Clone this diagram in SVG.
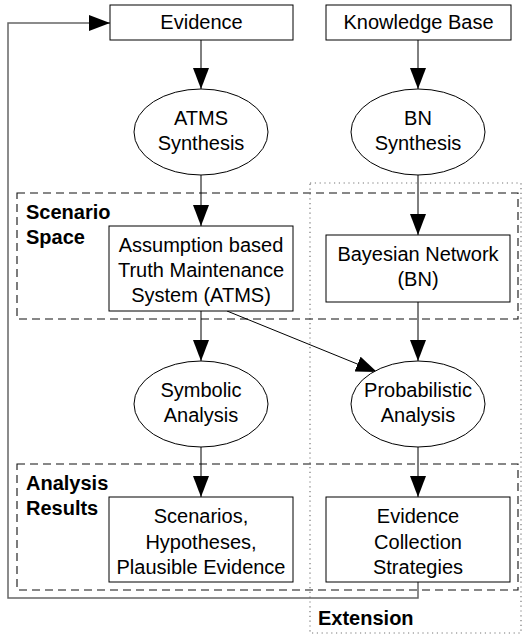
<svg xmlns="http://www.w3.org/2000/svg" width="530" height="637" viewBox="0 0 530 637">
<style>
  .box{fill:#fff;stroke:#000;stroke-width:1}
  .ell{fill:#fff;stroke:#000;stroke-width:1}
  .t{font-family:"Liberation Sans",Arial,sans-serif;font-size:20px;fill:#000;text-anchor:middle}
  .lbl{font-family:"Liberation Sans",Arial,sans-serif;font-size:20px;font-weight:bold;fill:#000}
  .edge{fill:none;stroke:#000;stroke-width:1}
  .dash{fill:none;stroke:#111;stroke-width:1.1;stroke-dasharray:8,5}
  .dot{fill:none;stroke:#777;stroke-width:1.2;stroke-dasharray:1.2,3.6}
</style>
<defs>
  <marker id="ah" viewBox="0 0 21 16" refX="21" refY="8" markerWidth="21" markerHeight="16" markerUnits="userSpaceOnUse" orient="auto">
    <path d="M0,0 L21,8 L0,16 Z" fill="#000"/>
  </marker>
</defs>
<rect fill="#fff" x="0" y="0" width="530" height="637"/>
<g id="regions">
  <rect class="dot" x="310" y="183" width="211" height="450"/>
  <rect class="dash" x="17" y="193" width="501" height="126"/>
  <rect class="dash" x="17" y="464" width="501" height="126"/>
  <text class="lbl" x="26" y="219">Scenario</text>
  <text class="lbl" x="26" y="244">Space</text>
  <text class="lbl" x="26" y="490">Analysis</text>
  <text class="lbl" x="26" y="515">Results</text>
  <text class="lbl" x="318" y="625">Extension</text>
</g>
<g id="connectors">
  <path class="edge" d="M201,40 L201,89" marker-end="url(#ah)"/>
  <path class="edge" d="M418,40 L418,89" marker-end="url(#ah)"/>
  <path class="edge" d="M201,175 L201,226" marker-end="url(#ah)"/>
  <path class="edge" d="M418,175 L418,235" marker-end="url(#ah)"/>
  <path class="edge" d="M201,311 L201,361" marker-end="url(#ah)"/>
  <path class="edge" d="M418,302 L418,361" marker-end="url(#ah)"/>
  <path class="edge" d="M227,311 L377,372" marker-end="url(#ah)"/>
  <path class="edge" d="M201,447 L201,497" marker-end="url(#ah)"/>
  <path class="edge" d="M418,447 L418,497" marker-end="url(#ah)"/>
  <path d="M418,582 L418,598 L8,598 L8,23 L95,23" fill="none" stroke="#666" stroke-width="1.5"/>
  <path class="edge" d="M95,23 L110,23" marker-end="url(#ah)"/>
</g>
<g id="evidence">
  <rect class="box" x="110" y="5" width="183" height="35"/>
  <text class="t" x="201.5" y="29">Evidence</text>
</g>
<g id="knowledge-base">
  <rect class="box" x="326" y="5" width="185" height="35"/>
  <text class="t" x="418.5" y="29">Knowledge Base</text>
</g>
<g id="atms-synthesis">
  <ellipse class="ell" cx="201" cy="132" rx="67" ry="43"/>
  <text class="t" x="201" y="125">ATMS</text>
  <text class="t" x="201" y="150">Synthesis</text>
</g>
<g id="bn-synthesis">
  <ellipse class="ell" cx="418" cy="132" rx="67" ry="43"/>
  <text class="t" x="418" y="125">BN</text>
  <text class="t" x="418" y="150">Synthesis</text>
</g>
<g id="atms">
  <rect class="box" x="109" y="226" width="184" height="85"/>
  <text class="t" x="201" y="252">Assumption based</text>
  <text class="t" x="201" y="277">Truth Maintenance</text>
  <text class="t" x="201" y="302">System (ATMS)</text>
</g>
<g id="bn">
  <rect class="box" x="326" y="235" width="184" height="67"/>
  <text class="t" x="418" y="261">Bayesian Network</text>
  <text class="t" x="418" y="286">(BN)</text>
</g>
<g id="symbolic-analysis">
  <ellipse class="ell" cx="201" cy="404" rx="67" ry="43"/>
  <text class="t" x="201" y="397">Symbolic</text>
  <text class="t" x="201" y="422">Analysis</text>
</g>
<g id="probabilistic-analysis">
  <ellipse class="ell" cx="418" cy="404" rx="67" ry="43"/>
  <text class="t" x="418" y="397">Probabilistic</text>
  <text class="t" x="418" y="422">Analysis</text>
</g>
<g id="scenarios">
  <rect class="box" x="109" y="497" width="184" height="85"/>
  <text class="t" x="201" y="523">Scenarios,</text>
  <text class="t" x="201" y="549">Hypotheses,</text>
  <text class="t" x="201" y="574">Plausible Evidence</text>
</g>
<g id="strategies">
  <rect class="box" x="326" y="497" width="184" height="85"/>
  <text class="t" x="418" y="523">Evidence</text>
  <text class="t" x="418" y="549">Collection</text>
  <text class="t" x="418" y="574">Strategies</text>
</g>
</svg>
